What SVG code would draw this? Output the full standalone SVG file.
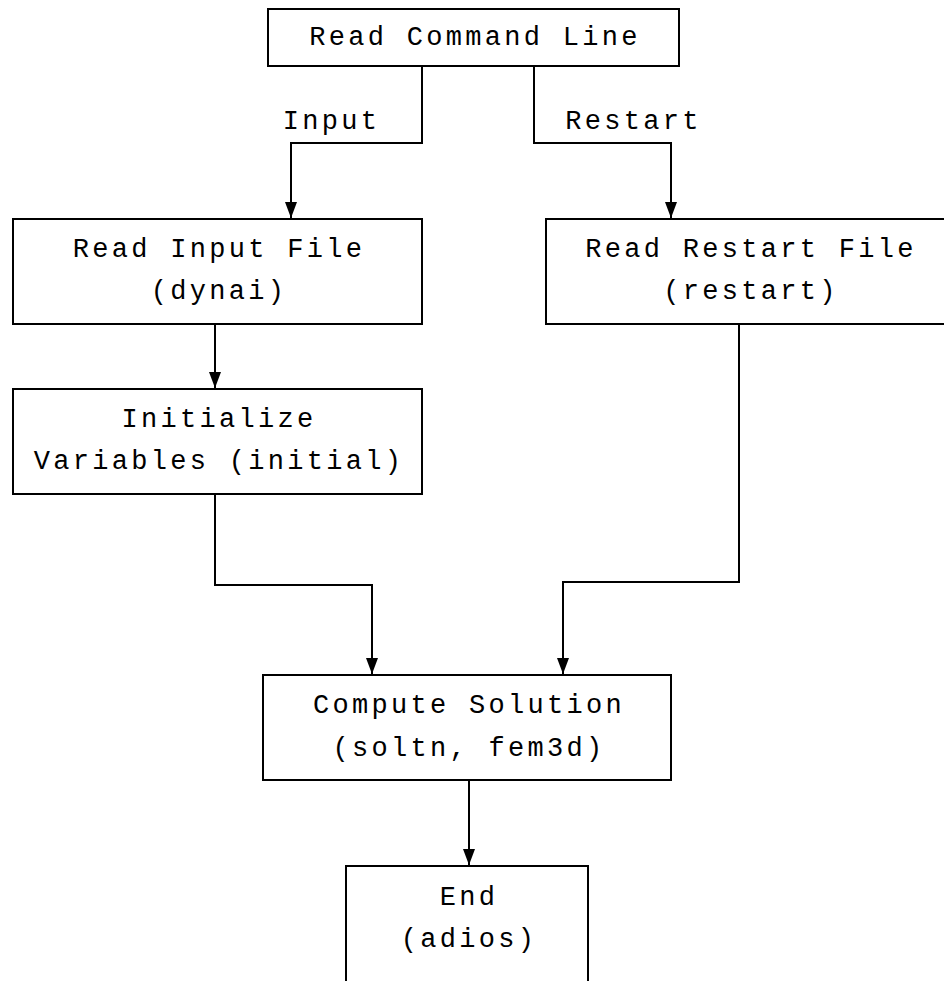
<svg xmlns="http://www.w3.org/2000/svg" width="944" height="981" viewBox="0 0 944 981">
  <style>
    .box { fill: #ffffff; stroke: #000000; stroke-width: 2; }
    .lbl { font-family: "Courier New", "Nimbus Mono PS", "FreeMono", "Liberation Mono", monospace; font-size: 27px; letter-spacing: 3.3px; fill: #000000; text-anchor: middle; }
    .wire { fill: none; stroke: #000000; stroke-width: 2; }
  </style>
  <defs>
    <marker id="arrow" markerWidth="16" markerHeight="12" refX="16" refY="6" orient="auto" markerUnits="userSpaceOnUse" viewBox="0 0 16 12">
      <path d="M0,0 L16,6 L0,12 Z" fill="#000000"/>
    </marker>
  </defs>
  <rect width="944" height="981" fill="#ffffff"/>

  <!-- connectors -->
  <g id="connectors">
    <path class="wire" d="M422,66 V143 H291 V218" marker-end="url(#arrow)"/>
    <path class="wire" d="M534,66 V143 H671 V218" marker-end="url(#arrow)"/>
    <path class="wire" d="M215,324 V388" marker-end="url(#arrow)"/>
    <path class="wire" d="M215,494 V585 H372 V674" marker-end="url(#arrow)"/>
    <path class="wire" d="M739,324 V582 H563 V674" marker-end="url(#arrow)"/>
    <path class="wire" d="M469,780 V865" marker-end="url(#arrow)"/>
    <text class="lbl" x="331.6" y="129">Input</text>
    <text class="lbl" x="633.6" y="129">Restart</text>
  </g>

  <g id="read-command-line">
    <rect class="box" x="268" y="9" width="411" height="57"/>
    <text class="lbl" x="475" y="45">Read Command Line</text>
  </g>

  <g id="read-input-file">
    <rect class="box" x="13" y="219" width="409" height="105"/>
    <text class="lbl" x="219" y="257">Read Input File</text>
    <text class="lbl" x="219" y="299">(dynai)</text>
  </g>

  <g id="read-restart-file">
    <rect class="box" x="546" y="219" width="409" height="105"/>
    <text class="lbl" x="751" y="257">Read Restart File</text>
    <text class="lbl" x="751" y="299">(restart)</text>
  </g>

  <g id="initialize-variables">
    <rect class="box" x="13" y="389" width="409" height="105"/>
    <text class="lbl" x="219" y="427">Initialize</text>
    <text class="lbl" x="219" y="469">Variables (initial)</text>
  </g>

  <g id="compute-solution">
    <rect class="box" x="263" y="675" width="408" height="105"/>
    <text class="lbl" x="469" y="713">Compute Solution</text>
    <text class="lbl" x="469" y="756">(soltn, fem3d)</text>
  </g>

  <g id="end">
    <rect class="box" x="346" y="866" width="242" height="130"/>
    <text class="lbl" x="469" y="905">End</text>
    <text class="lbl" x="469" y="947">(adios)</text>
  </g>
</svg>
